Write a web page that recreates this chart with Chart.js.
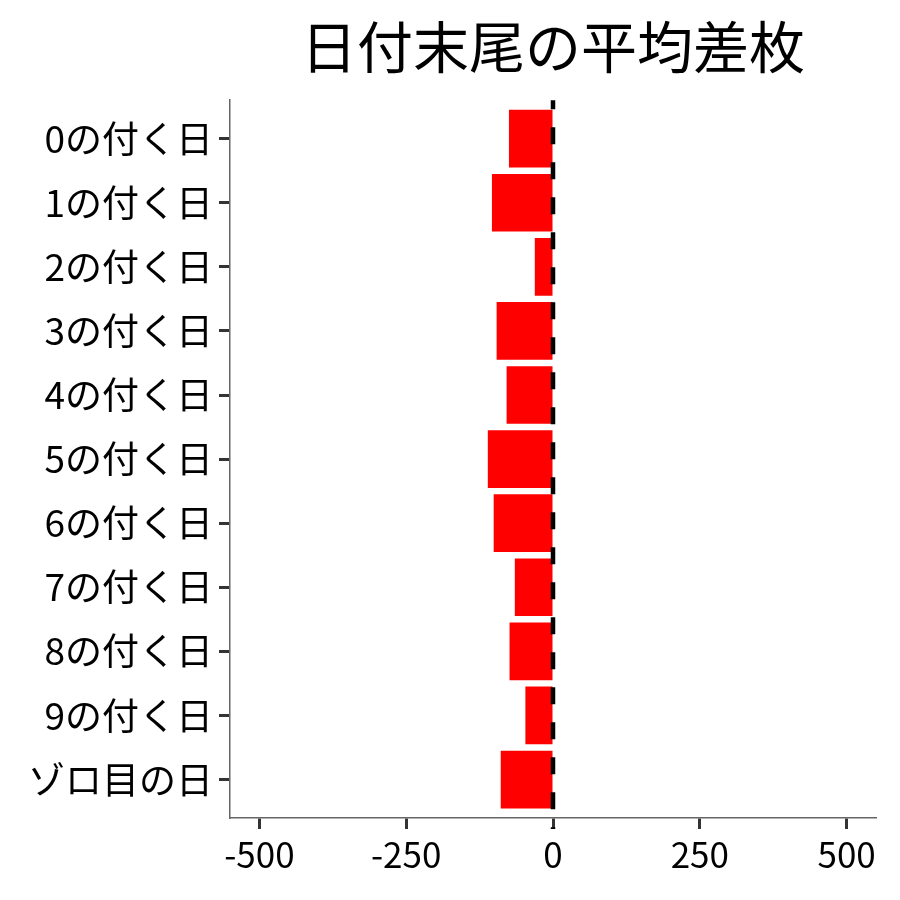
<!DOCTYPE html>
<html lang="ja">
<head>
    <title>日付末尾の平均差枚</title>
    <meta charset="utf-8">
    <script src="https://cdn.jsdelivr.net/npm/chart.js@4.4.0/dist/chart.umd.js"></script>
    <style>
        html, body { margin: 0; padding: 0; background: #fff; }
        #wrap { width: 900px; height: 900px; }
    </style>
</head>
<body>
    <div id="wrap"><canvas id="diffChart" width="900" height="900"></canvas></div>

    <script>
        // Data
        const categories = ['0の付く日', '1の付く日', '2の付く日', '3の付く日', '4の付く日',
                            '5の付く日', '6の付く日', '7の付く日', '8の付く日', '9の付く日', 'ゾロ目の日'];
        const avgDiff = [-75, -104, -31, -96, -79, -111, -101, -65, -74, -47, -89];
        const xTicks = [-500, -250, 0, 250, 500];

        const font = '"Noto Sans CJK JP", "Noto Sans", sans-serif';

        // dashed line at x = 0
        const zeroLine = {
            id: 'zeroLine',
            afterDatasetsDraw(chart) {
                const { ctx, chartArea, scales } = chart;
                const x = scales.x.getPixelForValue(0);
                ctx.save();
                ctx.strokeStyle = '#000';
                ctx.lineWidth = 4.5;
                ctx.setLineDash([17, 18]);
                ctx.lineDashOffset = 8;
                ctx.beginPath();
                ctx.moveTo(x, chartArea.top);
                ctx.lineTo(x, chartArea.bottom + 11);
                ctx.stroke();
                ctx.restore();
            }
        };

        const ctx = document.getElementById('diffChart').getContext('2d');
        new Chart(ctx, {
            type: 'bar',
            data: {
                datasets: [{
                    data: avgDiff.map((v, i) => ({ x: v, y: i })),
                    backgroundColor: '#ff0000',
                    borderWidth: 0,
                    barPercentage: 0.9,
                    categoryPercentage: 1.0,
                }],
            },
            options: {
                indexAxis: 'y',
                responsive: false,
                animation: false,
                layout: { padding: { top: 13, right: 24, left: 0, bottom: 0 } },
                plugins: {
                    legend: { display: false },
                    tooltip: { enabled: false },
                    title: {
                        display: true,
                        text: '日付末尾の平均差枚',
                        fullSize: false,
                        color: '#000',
                        font: { family: font, size: 56, weight: 'normal' },
                        padding: { top: 0, bottom: 20 },
                    },
                },
                scales: {
                    x: {
                        type: 'linear',
                        min: -550,
                        max: 550,
                        afterBuildTicks: scale => { scale.ticks = xTicks.map(v => ({ value: v })); },
                        afterFit: scale => { scale.height = 82; },
                        grid: { drawOnChartArea: false, drawTicks: true, tickLength: 11, tickColor: '#333', tickWidth: 3 },
                        border: { display: true, color: '#666', width: 1.5 },
                        ticks: { color: '#000', padding: 5, maxRotation: 0, font: { family: font, size: 35 } },
                    },
                    y: {
                        type: 'linear',
                        reverse: true,
                        offset: false,
                        min: -0.6,
                        max: 10.6,
                        afterBuildTicks: scale => { scale.ticks = categories.map((c, i) => ({ value: i })); },
                        afterFit: scale => { scale.width = 230; },
                        grid: { offset: false, drawOnChartArea: false, drawTicks: true, tickLength: 11, tickColor: '#333', tickWidth: 3 },
                        border: { display: true, color: '#666', width: 1.5 },
                        ticks: {
                            color: '#000',
                            padding: 6,
                            autoSkip: false,
                            font: { family: font, size: 37 },
                            callback: v => categories[v],
                        },
                    },
                },
            },
            plugins: [zeroLine],
        });
    </script>
</body>
</html>
